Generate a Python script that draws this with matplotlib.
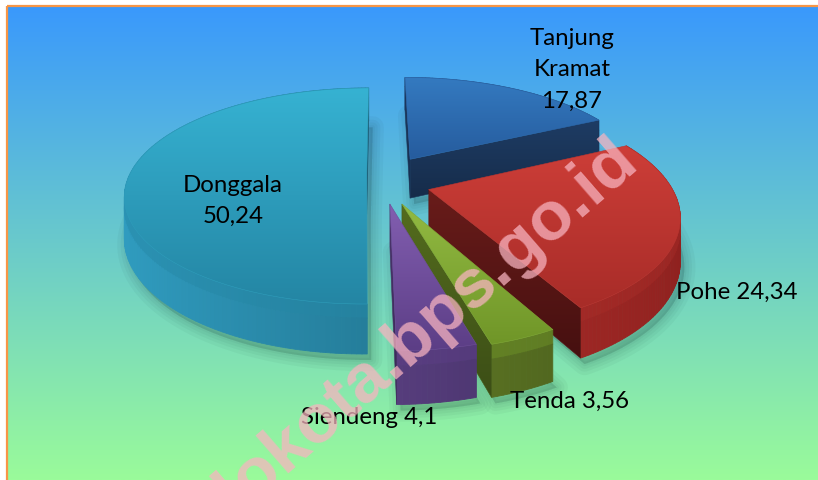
import numpy as np
import matplotlib
matplotlib.use("Agg")
import matplotlib.pyplot as plt
from matplotlib.patches import Polygon, Rectangle

# ---------------- data ----------------
names = ["Tanjung\nKramat", "Pohe", "Tenda", "Siendeng", "Donggala"]
values = [17.87, 24.34, 3.56, 4.1, 50.24]
joiners = ["\n", " ", " ", " ", "\n"]
watermark = "gorontalokota.bps.go.id"

# ---------------- style ----------------
W, H = 818, 481
offsets_u = [0.137, 0.205, 0.093, 0.045, -0.05]
offsets_v = [0.150, -0.142, -0.27, -0.27, 0.0]
CX, CY, A, B, K, DEPTH = 378.6, 175.4, 237.0, 103.7, 0.2, 40.0

top_cols = [((52, 122, 192), (38, 92, 158)),
            ((205, 62, 56), (168, 44, 40)),
            ((146, 186, 66), (112, 150, 40)),
            ((130, 94, 176), (92, 62, 134)),
            ((54, 178, 210), (36, 134, 164))]
cut_cols = [((30, 60, 100), (22, 44, 74)),
            ((105, 28, 26), (70, 16, 16)),
            ((84, 108, 30), (60, 78, 22)),
            ((78, 54, 112), (56, 38, 84)),
            ((30, 100, 125), (22, 80, 100))]
wall_cols = [((50, 100, 165), (24, 52, 92)),
             ((190, 52, 48), (140, 32, 30)),
             ((120, 150, 46), (62, 80, 24)),
             ((112, 80, 156), (52, 36, 82)),
             ((48, 156, 192), (22, 86, 106))]
label_pos = [(572, 70), (737, 292), (570, 401), (369, 418), (233, 201)]
draw_order = [0, 1, 2, 3, 4]

def c(rgb):
    return np.array(rgb, dtype=float) / 255.0

fig = plt.figure(figsize=(W / 100, H / 100), dpi=100)
fig.patch.set_facecolor("white")
ax = fig.add_axes([0, 0, 1, 1])
ax.axis("off")

# background gradient
t = np.linspace(0, 1, 256)[:, None]
ctop, cbot = c((58, 153, 252)), c((154, 251, 154))
bg = ((1 - t) * ctop + t * cbot)[:, None, :]
ax.imshow(bg, extent=(8, W, H, 8), origin="upper", aspect="auto",
          interpolation="bilinear", zorder=0)
ax.add_patch(Rectangle((6.8, 7.2), W + 20, H + 20, fill=False,
                       ec="#F79646", lw=1.6, zorder=1))


def proj(u, v, z):
    s = 1.0 / (1.0 + K * v)
    return np.array([CX + A * u * s, CY - B * v * s + DEPTH * z * s])


def grad_fill(verts, c1, c2, z):
    verts = np.asarray(verts)
    poly = Polygon(verts, closed=True, fc="none", ec="none", zorder=z)
    ax.add_patch(poly)
    x0, x1 = verts[:, 0].min(), verts[:, 0].max()
    y0, y1 = verts[:, 1].min(), verts[:, 1].max()
    tt = np.linspace(0, 1, 64)[:, None]
    img = ((1 - tt) * c(c1) + tt * c(c2))[:, None, :]
    im = ax.imshow(img, extent=(x0, x1, y1, y0), origin="upper",
                   aspect="auto", interpolation="bilinear", zorder=z)
    im.set_clip_path(poly)
    ax.add_patch(Polygon(verts, closed=True, fc="none",
                         ec=tuple((c(c1) + c(c2)) / 2), lw=0.4, zorder=z + 0.01))


total = sum(values)
bounds = np.concatenate([[0], np.cumsum(values)]) / total * 2 * np.pi

Ldir = np.array([-1.0, -0.15])
Ldir /= np.linalg.norm(Ldir)

# shadows
for i in range(len(values)):
    th = np.linspace(bounds[i], bounds[i + 1], 80)
    ou, ov = offsets_u[i], offsets_v[i]
    pts = [proj(ou, ov, 1.0)] + [proj(ou + np.sin(a), ov + np.cos(a), 1.0) for a in th]
    pts = np.array(pts) + np.array([4, 6])
    for lw in [16, 11, 7, 3]:
        ax.add_patch(Polygon(pts, closed=True, fc=(0, 0.1, 0.1, 0.035),
                             ec=(0, 0.1, 0.1, 0.035), lw=lw, zorder=2,
                             joinstyle="round"))

zbase = 10
for i in draw_order:
    ou, ov = offsets_u[i], offsets_v[i]
    th = np.linspace(bounds[i], bounds[i + 1], max(6, int(180 * values[i] / total * 2)))
    # walls (segments sorted back to front)
    segs = []
    for j in range(len(th) - 1):
        a0, a1 = th[j], th[j + 1]
        am = 0.5 * (a0 + a1)
        n = np.array([np.sin(am), np.cos(am)])
        f = np.clip(0.5 + 0.5 * n.dot(Ldir), 0, 1)
        base = c(wall_cols[i][1]) + (c(wall_cols[i][0]) - c(wall_cols[i][1])) * f
        bevel = 0.55 * base + 0.45 * c(top_cols[i][1])
        for (z0, z1, col) in [(0.0, 0.28, bevel), (0.28, 1.0, base)]:
            q = [proj(ou + np.sin(a0), ov + np.cos(a0), z0),
                 proj(ou + np.sin(a1), ov + np.cos(a1), z0),
                 proj(ou + np.sin(a1), ov + np.cos(a1), z1),
                 proj(ou + np.sin(a0), ov + np.cos(a0), z1)]
            segs.append((np.cos(am), q, col))
    segs.sort(key=lambda s: -s[0])
    for _, q, col in segs:
        ax.add_patch(Polygon(q, closed=True, fc=col, ec=col, lw=0.6, zorder=zbase))
    # radial cut faces (only those facing the viewer)
    amid = 0.5 * (bounds[i] + bounds[i + 1])
    P = proj(ou, ov, 0)
    M = proj(ou + 0.5 * np.sin(amid), ov + 0.5 * np.cos(amid), 0)
    for a in (bounds[i], bounds[i + 1]):
        Q = proj(ou + np.sin(a), ov + np.cos(a), 0)
        e = Q - P
        cm = e[0] * (M - P)[1] - e[1] * (M - P)[0]
        if cm * e[0] >= 0:
            continue
        q = [P, Q, proj(ou + np.sin(a), ov + np.cos(a), 1), proj(ou, ov, 1)]
        grad_fill(q, cut_cols[i][0], cut_cols[i][1], zbase + 1)
    # top face
    topv = [proj(ou, ov, 0)] + [proj(ou + np.sin(a), ov + np.cos(a), 0) for a in th]
    grad_fill(topv, top_cols[i][0], top_cols[i][1], zbase + 2)
    zbase += 5

# labels
for i in range(len(values)):
    val = f"{values[i]:g}".replace(".", ",")
    ax.text(label_pos[i][0], label_pos[i][1], names[i] + joiners[i] + val,
            ha="center", va="center", fontsize=17.3, family="Lato",
            color="black", linespacing=1.62, zorder=60)

# watermark
ax.text(640, 165, watermark, rotation=41, rotation_mode="anchor",
        ha="right", va="baseline", fontsize=50, fontweight="bold",
        family="Liberation Sans", color="#F8B4C0", alpha=0.74, zorder=70)

ax.set_xlim(0, W)
ax.set_ylim(H, 0)
fig.savefig("out.png", dpi=100, facecolor="white")
